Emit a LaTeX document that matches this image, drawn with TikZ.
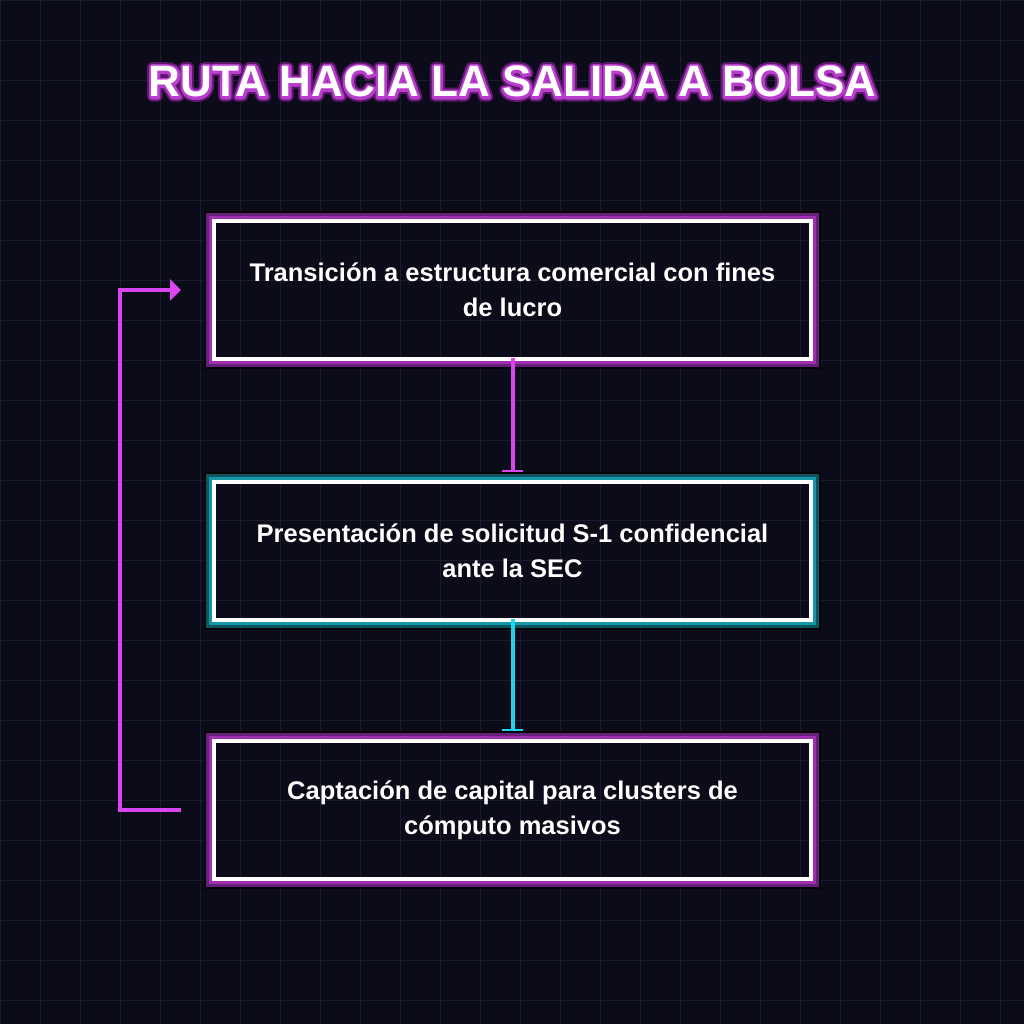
\documentclass[tikz,border=0pt]{standalone}
\usepackage{fontspec}
\setmainfont{Liberation Sans}
\usetikzlibrary{arrows.meta,calc}
\definecolor{bgc}{HTML}{0B0B1A}
\definecolor{gridc}{HTML}{1B1B2E}
\definecolor{magline}{HTML}{D946EF}
\definecolor{cyanline}{HTML}{22D3EE}
\definecolor{purA}{HTML}{9E30B0}
\definecolor{purB}{HTML}{66207A}
\definecolor{tealA}{HTML}{1597A8}
\definecolor{tealB}{HTML}{0D5560}
\definecolor{glowblack}{HTML}{040407}
\definecolor{titledark}{HTML}{5C1A6B}
\definecolor{titlemag}{HTML}{B83CCC}
\newcommand{\outlinetext}[3]{% width, stroke rgb, text
  \special{pdf:literal direct 2 Tr #1 w 1 j #2 RG}#3\special{pdf:literal direct 0 Tr 1 w}}
\tikzset{
  box/.style={draw=white, line width=4pt, minimum width=597pt, minimum height=138pt,
    inner sep=0pt, outer sep=0pt, text=white, align=center,
    font=\fontsize{25.5}{35}\selectfont\bfseries},
  flowline/.style={line width=4pt},
  titlestyle/.style={anchor=base, font=\fontsize{44}{44}\selectfont\bfseries},
}
\newcommand{\boxglow}[3]{%
  \draw[#2, line width=3pt] ([shift={(-3.5,-3.5)}]#1.north west) rectangle ([shift={(3.5,3.5)}]#1.south east);
  \draw[#3, line width=3pt] ([shift={(-6.5,-6.5)}]#1.north west) rectangle ([shift={(6.5,6.5)}]#1.south east);
  \draw[glowblack, line width=2pt] ([shift={(-9,-9)}]#1.north west) rectangle ([shift={(9,9)}]#1.south east);
}
\begin{document}
\begin{tikzpicture}[x=1pt,y=-1pt]
\fill[bgc] (0,0) rectangle (1024,1024);
\useasboundingbox (0,0) rectangle (1024,1024);
\foreach \k in {0,40,...,1020} {
  \draw[gridc, line width=1pt] (\k+0.5,0) -- (\k+0.5,1024);
  \draw[gridc, line width=1pt] (0,\k+0.5) -- (1024,\k+0.5);
}
% title: outer glow, magenta outline, white fill
\node[titlestyle, text=titledark] (titleglow) at (512.5,97)
  {\outlinetext{9}{0.36 0.10 0.42}{RUTA HACIA LA SALIDA A BOLSA}};
\node[titlestyle, text=titlemag] (titleline) at (512.5,97)
  {\outlinetext{5}{0.72 0.24 0.80}{RUTA HACIA LA SALIDA A BOLSA}};
\node[titlestyle, text=white] (title) at (512.5,97) {RUTA HACIA LA SALIDA A BOLSA};
% boxes
\node[box] (a) at (512.5,290) {Transición a estructura comercial con fines\\de lucro};
\node[box] (b) at (512.5,550.5) {Presentación de solicitud S-1 confidencial\\ante la SEC};
\node[box] (c) at (512.5,810) {Captación de capital para clusters de\\cómputo masivos};
\boxglow{a}{purA}{purB}
\boxglow{b}{tealA}{tealB}
\boxglow{c}{purA}{purB}
% connectors
\draw[flowline, magline, -{Bar[width=21pt,line width=2pt]}, shorten <=-1pt, shorten >=10pt] (a.south) -- (b.north);
\draw[flowline, cyanline, -{Bar[width=21pt,line width=2pt]}, shorten <=-1pt, shorten >=10pt] (b.south) -- (c.north);
\draw[flowline, magline, -{Triangle[width=21pt,length=11pt]}, shorten <=33pt, shorten >=33pt]
  (c.west) -- ++(-94,0) |- (a.west);
\end{tikzpicture}
\end{document}
